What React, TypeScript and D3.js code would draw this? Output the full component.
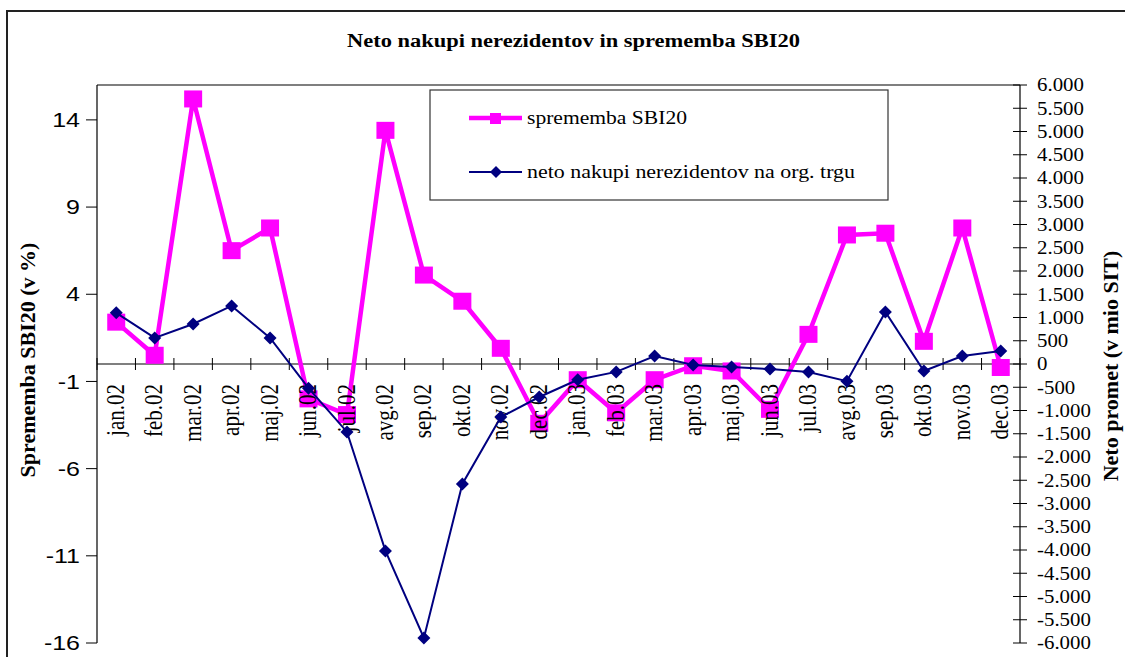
import React from "react";
import * as d3 from "d3";

const months = ["jan.02","feb.02","mar.02","apr.02","maj.02","jun.02","jul.02","avg.02","sep.02","okt.02","nov.02","dec.02","jan.03","feb.03","mar.03","apr.03","maj.03","jun.03","jul.03","avg.03","sep.03","okt.03","nov.03","dec.03"];
const sbiChange = [2.4, 0.5, 15.2, 6.5, 7.8, -2.0, -2.9, 13.4, 5.1, 3.6, 0.9, -3.4, -0.9, -2.8, -0.9, -0.1, -0.4, -2.6, 1.7, 7.4, 7.5, 1.3, 7.8, -0.2];
const netPurchases = [1100, 560, 860, 1250, 560, -520, -1460, -4020, -5890, -2580, -1140, -710, -340, -170, 170, -20, -65, -110, -170, -370, 1120, -150, 170, 280];
const leftTicks = [-16, -11, -6, -1, 4, 9, 14];
const rightTicks = d3.range(-6000, 6001, 500);

const title = "Neto nakupi nerezidentov in sprememba SBI20";
const leftTitle = "Sprememba SBI20 (v %)";
const rightTitle = "Neto promet (v mio SIT)";
const legend1 = "sprememba SBI20";
const legend2 = "neto nakupi nerezidentov na org. trgu";

const fmtRight = (v: number) => {
  const s = Math.abs(v).toString().replace(/\B(?=(\d{3})+(?!\d))/g, ".");
  return (v < 0 ? "-" : "") + s;
};

export default function App() {
  const L = 97, R = 1020, T = 85, B = 643;
  const x = d3.scaleBand<string>().domain(months).range([L, R]);
  const bw = x.bandwidth();
  const cx = (m: string) => (x(m) as number) + bw / 2;
  const yL = d3.scaleLinear().domain([-16, 16]).range([B, T]);
  const yR = d3.scaleLinear().domain([-6000, 6000]).range([B, T]);
  const y0 = yL(0);
  const pink = "#FF00FF";
  const navy = "#000080";
  const serif = "'Liberation Serif', 'Times New Roman', serif";
  const sans = "'Liberation Sans', Arial, sans-serif";

  const linePink = d3.line<number>().x((_, i) => cx(months[i])).y((d) => yL(d));
  const lineNavy = d3.line<number>().x((_, i) => cx(months[i])).y((d) => yR(d));

  const diamond = (px: number, py: number, r: number) =>
    `M${px},${py - r}L${px + r},${py}L${px},${py + r}L${px - r},${py}Z`;

  return (
    <svg width={1125} height={657} style={{ position: "absolute", left: 0, top: 0, background: "#fff" }}>
      <rect x={0} y={0} width={1125} height={657} fill="#fff" />
      {/* outer frame */}
      <rect x={7} y={11} width={1140} height={680} fill="none" stroke="#222" strokeWidth={2} />
      {/* title */}
      <text x={347} y={47} fontFamily={serif} fontWeight="bold" fontSize={18} textLength={453} lengthAdjust="spacingAndGlyphs">{title}</text>

      {/* plot top border */}
      <line x1={L} x2={R} y1={T} y2={T} stroke="#000" strokeWidth={1.2} />
      {/* left axis */}
      <line x1={L} x2={L} y1={T} y2={B} stroke="#000" strokeWidth={1.2} />
      {leftTicks.map((t) => (
        <g key={"lt" + t}>
          <line x1={L - 11} x2={L} y1={yL(t)} y2={yL(t)} stroke="#000" strokeWidth={1} />
          <g transform={`translate(${L - 17},${yL(t)}) scale(1.25,1)`}>
            <text x={0} y={0} dy="0.36em" textAnchor="end" fontFamily={sans} fontSize={20}>{t}</text>
          </g>
        </g>
      ))}
      {/* right axis */}
      <line x1={R} x2={R} y1={T} y2={B} stroke="#000" strokeWidth={1.2} />
      {rightTicks.map((t) => (
        <g key={"rt" + t}>
          <line x1={R - 7} x2={R + 7} y1={yR(t)} y2={yR(t)} stroke="#000" strokeWidth={1} />
          <g transform={`translate(1037,${yR(t)}) scale(1.16,1)`}>
            <text x={0} y={0} dy="0.35em" textAnchor="start" fontFamily={serif} fontSize={18}>{fmtRight(t)}</text>
          </g>
        </g>
      ))}
      {/* x axis */}
      <line x1={L} x2={R} y1={y0} y2={y0} stroke="#000" strokeWidth={1.2} />
      {d3.range(0, months.length + 1).map((i) => (
        <line key={"xt" + i} x1={L + i * bw} x2={L + i * bw} y1={y0 - 6} y2={y0 + 6} stroke="#000" strokeWidth={1} />
      ))}

      {/* axis titles */}
      <text transform={`translate(35,360) rotate(-90)`} textAnchor="middle" fontFamily={serif} fontWeight="bold" fontSize={22}>{leftTitle}</text>
      <text transform={`translate(1118,366) rotate(-90)`} textAnchor="middle" fontFamily={serif} fontWeight="bold" fontSize={22}>{rightTitle}</text>

      {/* pink series */}
      <path d={linePink(sbiChange) || ""} fill="none" stroke={pink} strokeWidth={4.5} strokeLinejoin="miter" />
      {sbiChange.map((v, i) => (
        <rect key={"ps" + i} x={cx(months[i]) - 9} y={yL(v) - 8.5} width={18} height={17} fill={pink} />
      ))}

      {/* x labels */}
      {months.map((m) => (
        <g key={"xl" + m} transform={`translate(${cx(m)},384) scale(1.2,1) rotate(-90)`}>
          <text x={0} y={0} dy="0.3em" textAnchor="end" fontFamily={serif} fontSize={21}>{m}</text>
        </g>
      ))}

      {/* navy series */}
      <path d={lineNavy(netPurchases) || ""} fill="none" stroke={navy} strokeWidth={2} />
      {netPurchases.map((v, i) => (
        <path key={"nd" + i} d={diamond(cx(months[i]), yR(v), 6.5)} fill={navy} />
      ))}

      {/* legend */}
      <rect x={430} y={90} width={458} height={110} fill="#fff" stroke="#333" strokeWidth={1.2} />
      <line x1={469} x2={522} y1={118} y2={118} stroke={pink} strokeWidth={4.5} />
      <rect x={490} y={113} width={11} height={11} fill={pink} />
      <text x={527} y={124} fontFamily={serif} fontSize={18} textLength={160} lengthAdjust="spacingAndGlyphs">{legend1}</text>
      <line x1={469} x2={522} y1={172} y2={172} stroke={navy} strokeWidth={2} />
      <path d={diamond(496, 172, 6)} fill={navy} />
      <text x={527} y={178} fontFamily={serif} fontSize={18} textLength={328} lengthAdjust="spacingAndGlyphs">{legend2}</text>
    </svg>
  );
}
